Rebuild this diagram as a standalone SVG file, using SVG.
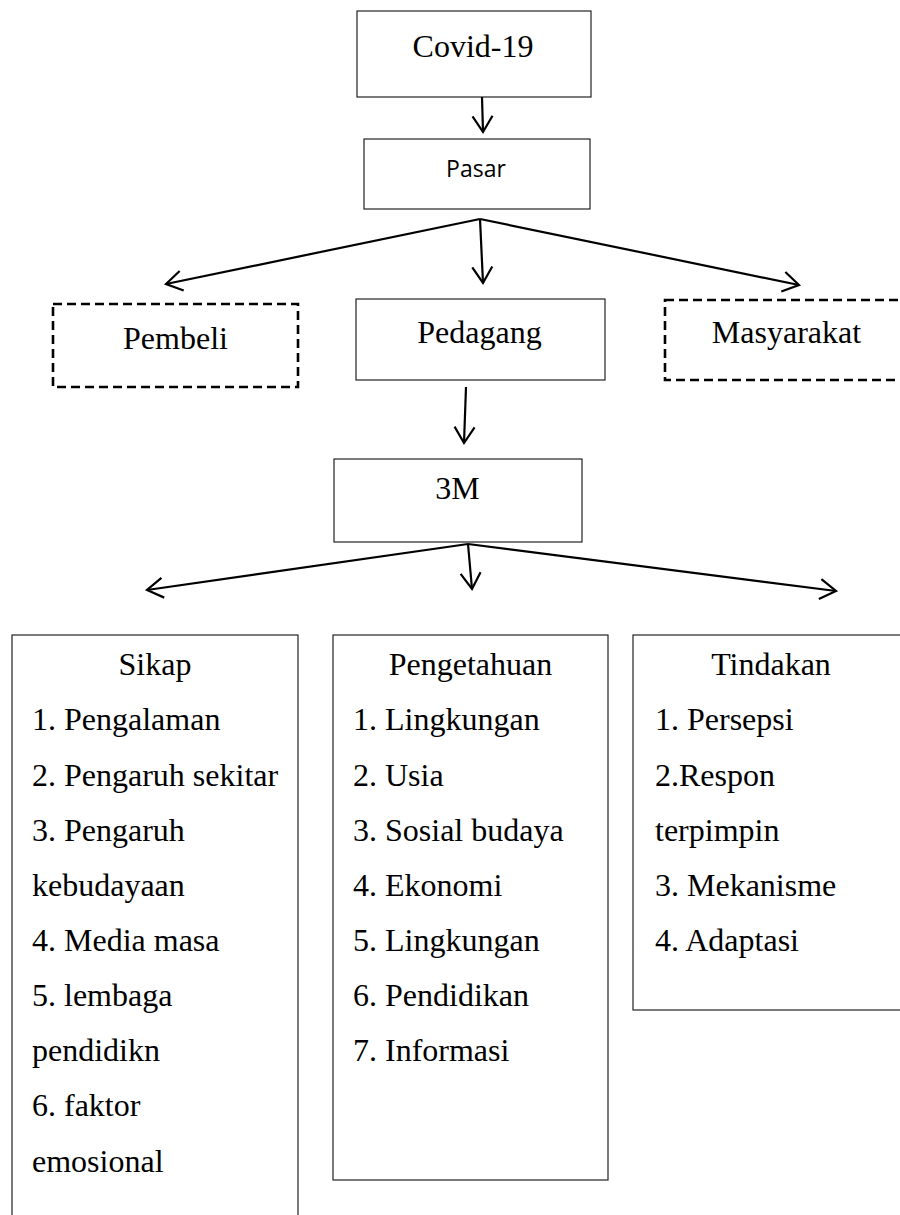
<svg xmlns="http://www.w3.org/2000/svg" width="900" height="1215" viewBox="0 0 900 1215">
<defs>
<style>
.t{font-family:'Liberation Serif','Times New Roman',Times,'DejaVu Serif',serif;font-size:32px;fill:#000}
.s{font-family:'Open Sans','Liberation Sans',sans-serif;font-size:23px;fill:#000}
.box{fill:#fff;stroke:#222;stroke-width:1.2}
.dash{fill:#fff;stroke:#000;stroke-width:2.6;stroke-dasharray:9 5}
.c{fill:none;stroke:#000;stroke-width:2.2;marker-end:url(#ah)}
</style>
<marker id="ah" markerUnits="userSpaceOnUse" markerWidth="30" markerHeight="30" viewBox="-20 -15 30 30" refX="0" refY="0" orient="auto">
<path d="M-16,-10 L0,0 L-16,10" fill="none" stroke="#000" stroke-width="2.2"/>
</marker>
</defs>
<rect width="900" height="1215" fill="#fff"/>
<g id="covid"><rect class="box" x="357" y="11" width="234" height="86"/><text class="t" font-family="Liberation Serif, serif" x="473" y="57" text-anchor="middle">Covid-19</text></g>
<g id="pasar"><rect class="box" x="364" y="139" width="226" height="70"/><text class="s" x="476" y="177" text-anchor="middle">Pasar</text></g>
<g id="pembeli"><rect class="dash" x="53" y="304" width="245" height="83"/><text class="t" x="175.5" y="349" text-anchor="middle">Pembeli</text></g>
<g id="pedagang"><rect class="box" x="356" y="299" width="249" height="81"/><text class="t" x="479.5" y="343" text-anchor="middle">Pedagang</text></g>
<g id="masyarakat"><rect class="dash" x="665" y="300" width="250" height="80"/><text class="t" x="786.5" y="343" text-anchor="middle">Masyarakat</text></g>
<g id="m3"><rect class="box" x="334" y="459" width="248" height="83"/><text class="t" x="457.5" y="499" text-anchor="middle">3M</text></g>
<g id="sikap"><rect class="box" x="12" y="635" width="286" height="600"/>
<text class="t" x="155" y="675" text-anchor="middle">Sikap</text>
<text class="t" x="32" y="730">1. Pengalaman</text>
<text class="t" x="32" y="786">2. Pengaruh sekitar</text>
<text class="t" x="32" y="841">3. Pengaruh</text>
<text class="t" x="32" y="896">kebudayaan</text>
<text class="t" x="32" y="951">4. Media masa</text>
<text class="t" x="32" y="1006">5. lembaga</text>
<text class="t" x="32" y="1061">pendidikn</text>
<text class="t" x="32" y="1116">6. faktor</text>
<text class="t" x="32" y="1172">emosional</text>
</g>
<g id="pengetahuan"><rect class="box" x="333" y="635" width="275" height="545"/>
<text class="t" x="470.5" y="675" text-anchor="middle">Pengetahuan</text>
<text class="t" x="353" y="730">1. Lingkungan</text>
<text class="t" x="353" y="786">2. Usia</text>
<text class="t" x="353" y="841">3. Sosial budaya</text>
<text class="t" x="353" y="896">4. Ekonomi</text>
<text class="t" x="353" y="951">5. Lingkungan</text>
<text class="t" x="353" y="1006">6. Pendidikan</text>
<text class="t" x="353" y="1061">7. Informasi</text>
</g>
<g id="tindakan"><rect class="box" x="633" y="635" width="280" height="375"/>
<text class="t" x="771" y="675" text-anchor="middle">Tindakan</text>
<text class="t" x="655" y="730">1. Persepsi</text>
<text class="t" x="655" y="786">2.Respon</text>
<text class="t" x="655" y="841">terpimpin</text>
<text class="t" x="655" y="896">3. Mekanisme</text>
<text class="t" x="655" y="951">4. Adaptasi</text>
</g>
<g id="connectors">
<line class="c" x1="482" y1="97" x2="483" y2="132"/>
<line class="c" x1="480" y1="219" x2="166" y2="284"/>
<line class="c" x1="480" y1="219" x2="483" y2="283"/>
<line class="c" x1="480" y1="219" x2="799" y2="285"/>
<line class="c" x1="466" y1="387" x2="464" y2="443"/>
<line class="c" x1="468" y1="544" x2="147" y2="590"/>
<line class="c" x1="468" y1="544" x2="472" y2="589"/>
<line class="c" x1="468" y1="544" x2="836" y2="591"/>
</g>
</svg>
